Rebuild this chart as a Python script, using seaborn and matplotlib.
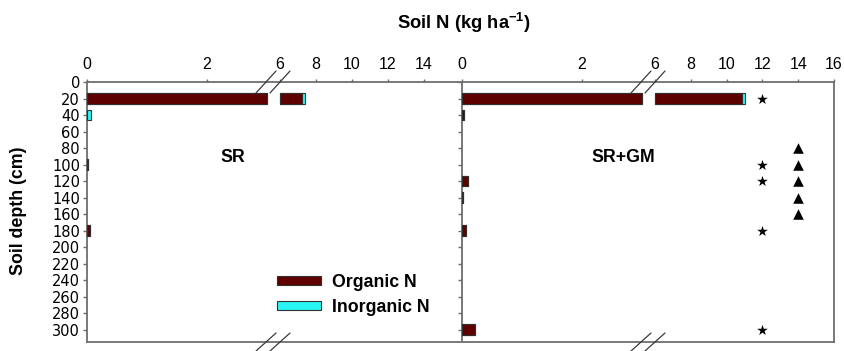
import matplotlib
matplotlib.use("Agg")
import matplotlib.pyplot as plt
import numpy as np
import pandas as pd
import seaborn as sns
from matplotlib.lines import Line2D
from matplotlib.patches import Patch

# ---- data -------------------------------------------------------------
depth = [20, 40, 60, 80, 100, 120, 140, 160, 180, 200, 220, 240, 260, 280, 300]

sr_organic = [7.20, 0.00, 0.00, 0.00, 0.01, 0.00, 0.00, 0.00, 0.045,
              0.00, 0.00, 0.00, 0.00, 0.00, 0.00]
sr_inorganic = [0.20, 0.06, 0.00, 0.00, 0.00, 0.00, 0.00, 0.00, 0.00,
                0.00, 0.00, 0.00, 0.00, 0.00, 0.00]

gm_organic = [10.85, 0.04, 0.00, 0.00, 0.00, 0.10, 0.02, 0.00, 0.06,
              0.00, 0.00, 0.00, 0.00, 0.00, 0.22]
gm_inorganic = [0.20, 0.00, 0.00, 0.00, 0.00, 0.00, 0.00, 0.00, 0.00,
                0.00, 0.00, 0.00, 0.00, 0.00, 0.00]

# significance markers (SR+GM panel)
star_depth = [20, 100, 120, 180, 300]
star_x = 12
tri_depth = [80, 100, 120, 140, 160]
tri_x = 14

panel_names = ["SR", "SR+GM"]
legend_labels = ["Organic N", "Inorganic N"]

low_range = (0, 3)
high_range = (6, 16)
low_ticks = [0, 2]
high_ticks = [[6, 8, 10, 12, 14], [6, 8, 10, 12, 14, 16]]
depth_ticks = list(range(0, 301, 20))
depth_max = 315

# ---- style --------------------------------------------------------------
sns.set_theme(style="ticks")
plt.rcParams["font.family"] = ["Liberation Sans", "DejaVu Sans"]
plt.rcParams["mathtext.fontset"] = "custom"
plt.rcParams["mathtext.rm"] = "Liberation Sans"
plt.rcParams["mathtext.bf"] = "Liberation Sans:bold"
plt.rcParams["text.color"] = "black"
plt.rcParams["axes.labelcolor"] = "black"
plt.rcParams["xtick.labelcolor"] = "black"
plt.rcParams["ytick.labelcolor"] = "black"

c_org = "#5e0000"
c_inorg = "#2af5f5"
c_edge = "#303030"
c_spine = "#6e6e6e"
bold_size = 12.8

W, H = 845, 351
fig = plt.figure(figsize=(W / 100, H / 100), dpi=100)


def px_box(x0, x1, y0, y1):
    return [x0 / W, 1 - y1 / H, (x1 - x0) / W, (y1 - y0) / H]


TOP, BOT = 82, 342
panels = [
    dict(frame=(87, 460), low=(87, 267), high=(280, 460)),
    dict(frame=(462, 834), low=(462, 642), high=(655, 834)),
]

frames = []
for i, (pan, org, inorg) in enumerate(zip(
        panels, [sr_organic, gm_organic], [sr_inorganic, gm_inorganic])):
    df = pd.DataFrame({"depth": depth, "organic": org, "inorganic": inorg})
    df["total"] = df["organic"] + df["inorganic"]

    frame = fig.add_axes(px_box(*pan["frame"], TOP, BOT))
    frame.set_zorder(0)
    frame.set_xlim(0, 1)
    frame.set_xticks([])
    frame.set_ylim(depth_max, 0)
    frame.set_yticks(depth_ticks)
    for s in ["top", "bottom", "left", "right"]:
        frame.spines[s].set_color(c_spine)
        frame.spines[s].set_linewidth(1.3)
    frame.spines["right"].set_visible(i == 1)
    frame.tick_params(axis="y", direction="out", length=3, width=1,
                      color=c_spine, pad=2, labelleft=(i == 0))
    for lab in frame.get_yticklabels():
        lab.set_fontfamily("DejaVu Sans")
        lab.set_fontsize(10.5)
    frames.append(frame)

    segs = []
    for j, (key, xr) in enumerate([("low", low_range), ("high", high_range)]):
        ax = fig.add_axes(px_box(*pan[key], TOP, BOT), sharey=frame)
        ax.set_zorder(1 + j)
        ax.patch.set_alpha(0)
        for s in ax.spines.values():
            s.set_visible(False)

        # stacked bars: total in inorganic colour, organic drawn over it
        for col, colour in [("total", c_inorg), ("organic", c_org)]:
            n0 = len(ax.patches)
            sns.barplot(data=df, x=col, y="depth", orient="h",
                        native_scale=True, width=0.65, color=colour,
                        edgecolor=c_edge, linewidth=0.8, errorbar=None,
                        saturation=1, ax=ax)
            for p in ax.patches[n0:]:
                x0, w = p.get_x(), p.get_width()
                x1 = x0 + w
                if w <= 0:
                    p.set_visible(False)
                    continue
                if key == "low":
                    if x1 > xr[1]:
                        p.set_width(xr[1] - x0)
                else:
                    if x1 <= xr[0]:
                        p.set_visible(False)
                        continue
                    if x0 < xr[0]:
                        p.set_x(xr[0])
                        p.set_width(x1 - xr[0])
                p.set_clip_on(False)

        ax.set_xlim(*xr)
        ax.set_xticks(low_ticks if key == "low" else high_ticks[i])
        ax.xaxis.tick_top()
        ax.tick_params(axis="x", direction="out", length=2.5, width=1,
                       color=c_spine, labelcolor="black", labelsize=11.5,
                       pad=5, bottom=False, labelbottom=False)
        ax.tick_params(axis="y", left=False, labelleft=False,
                       right=False, labelright=False)
        ax.set_xlabel("")
        ax.set_ylabel("")
        segs.append(ax)

    if i == 1:
        hi = segs[1]
        sns.scatterplot(x=[star_x] * len(star_depth), y=star_depth,
                        marker="*", s=65, color="black", linewidth=0,
                        ax=hi, clip_on=False, zorder=5)
        sns.scatterplot(x=[tri_x] * len(tri_depth), y=tri_depth,
                        marker="^", s=58, color="black", linewidth=0,
                        ax=hi, clip_on=False, zorder=5)
        hi.set_xlim(*high_range)
        hi.set_xlabel("")
        hi.set_ylabel("")

    frame.set_ylim(depth_max, 0)

    # axis-break marks on the top and bottom axis lines
    xa, xb = pan["low"][1], pan["high"][0]
    for yc, dy in [(TOP, 11), (BOT, 9)]:
        for xc in (xa - 1, xb):
            fig.add_artist(Line2D([(xc - 10) / W, (xc + 10) / W],
                                  [1 - (yc + dy) / H, 1 - (yc - dy) / H],
                                  transform=fig.transFigure,
                                  color="#3a3a3a", lw=0.9, zorder=10))

# panel names
fig.text(233 / W, 1 - 157 / H, panel_names[0], ha="center", va="center",
         fontsize=bold_size, fontweight="bold")
fig.text(623 / W, 1 - 158 / H, panel_names[1], ha="center", va="center",
         fontsize=bold_size, fontweight="bold")

# axis titles
fig.text(464 / W, 1 - 23 / H, r"Soil N (kg ha$^{\mathbf{-1}}$)",
         ha="center", va="center", fontsize=13.2, fontweight="bold")
fig.text(19 / W, 1 - 211 / H, "Soil depth (cm)", rotation=90,
         ha="center", va="center", fontsize=bold_size, fontweight="bold")

# legend
handles = [Patch(facecolor=c_org, edgecolor=c_edge, linewidth=0.8),
           Patch(facecolor=c_inorg, edgecolor=c_edge, linewidth=0.8)]
fig.legend(handles, legend_labels, loc="upper left",
           bbox_to_anchor=(277 / W, 1 - 274 / H), frameon=False,
           borderpad=0, borderaxespad=0, handlelength=2.5,
           handleheight=0.4, handletextpad=0.6, labelspacing=0.45,
           prop={"weight": "bold", "size": bold_size})

fig.savefig("out.png", dpi=100)
